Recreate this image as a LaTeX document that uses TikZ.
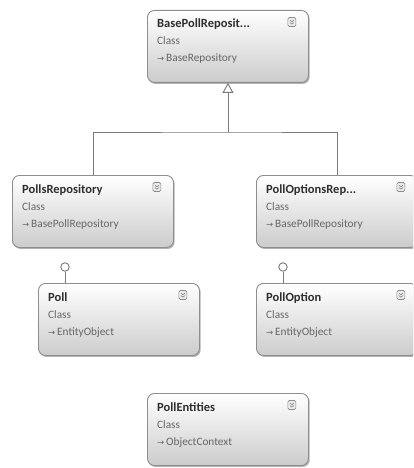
\documentclass[tikz,border=0pt]{standalone}
\usepackage{fontspec}
\setmainfont{Carlito}
\newfontfamily\symfont{DejaVu Sans}
\usetikzlibrary{shadows,arrows.meta}
\definecolor{bord}{HTML}{8E8E8E}
\definecolor{conncol}{HTML}{7A7A7A}
\definecolor{titlecol}{HTML}{2E2E2E}
\definecolor{subcol}{HTML}{666666}
\tikzset{
  classbox/.style={draw=bord, line width=0.9pt, rounded corners=7pt,
    top color=white, bottom color=black!20, anchor=north west,
    minimum width=161pt, minimum height=72pt, inner sep=0pt,
    drop shadow={shadow xshift=1.2pt, shadow yshift=-1.5pt, fill=black, opacity=0.3}},
  titletext/.style={anchor=base west, inner sep=0pt, text=titlecol,
    font=\bfseries\fontsize{12.5}{14}\selectfont},
  subtext/.style={anchor=base west, inner sep=0pt, text=subcol,
    font=\fontsize{11.3}{13}\selectfont},
  iconbox/.style={draw=black!45, fill=black!8, rounded corners=1.5pt, line width=0.6pt,
    minimum width=8pt, minimum height=9pt, inner sep=0pt},
  chev/.style={draw=black!55, line width=0.5pt},
  conn/.style={draw=conncol, line width=0.9pt},
  lolly/.style={circle, draw=conncol, line width=0.9pt, fill=white, minimum size=8.5pt, inner sep=0pt}
}
\newcommand\umlclass[5]{%
  \node[classbox] (#1) at (#2,#3) {};
  \node[titletext] (#1-t) at ([xshift=10pt,yshift=-18pt]#1.north west) {#4};
  \node[subtext] (#1-c) at ([xshift=10pt,yshift=-35pt]#1.north west) {Class};
  \node[subtext] (#1-b) at ([xshift=10pt,yshift=-52pt]#1.north west)
    {{\symfont\fontsize{8.5}{9}\selectfont →}\,#5};
  \node[iconbox] (#1-i) at ([xshift=-17pt,yshift=-12pt]#1.north east) {};
  \draw[chev] ([xshift=-2pt,yshift=1.8pt]#1-i.center) -- ([yshift=0.3pt]#1-i.center) -- ([xshift=2pt,yshift=1.8pt]#1-i.center);
  \draw[chev] ([xshift=-2pt,yshift=-0.6pt]#1-i.center) -- ([yshift=-2.1pt]#1-i.center) -- ([xshift=2pt,yshift=-0.6pt]#1-i.center);
}
\begin{document}
\begin{tikzpicture}[x=1pt,y=-1pt]
  \useasboundingbox (0,0) rectangle (413,468);
  \clip (0,0) rectangle (413,468);
  \fill[white] (0,0) rectangle (413,468);

  \umlclass{base}{147}{10}{BasePollReposit...}{BaseRepository}
  \umlclass{prepo}{12}{175}{PollsRepository}{BasePollRepository}
  \umlclass{porepo}{256}{175}{PollOptionsRep...}{BasePollRepository}
  \umlclass{poll}{38}{283}{Poll}{EntityObject}
  \umlclass{popt}{256}{283}{PollOption}{EntityObject}
  \umlclass{pent}{147}{393}{PollEntities}{ObjectContext}

  % inheritance
  \coordinate (join) at (base.south |- 0,132);
  \draw[conn] (prepo.north) |- (join) -| (porepo.north);
  \draw[conn, -{Triangle[open, length=10pt, width=11pt, line width=0.9pt]}] (join) -- (base.south);

  % lollipops
  \node[lolly] (l1) at ([xshift=27pt,yshift=16pt]poll.north west) {};
  \draw[conn] (l1) -- (l1 |- poll.north);
  \node[lolly] (l2) at ([xshift=27pt,yshift=16pt]popt.north west) {};
  \draw[conn] (l2) -- (l2 |- popt.north);
\end{tikzpicture}
\end{document}
